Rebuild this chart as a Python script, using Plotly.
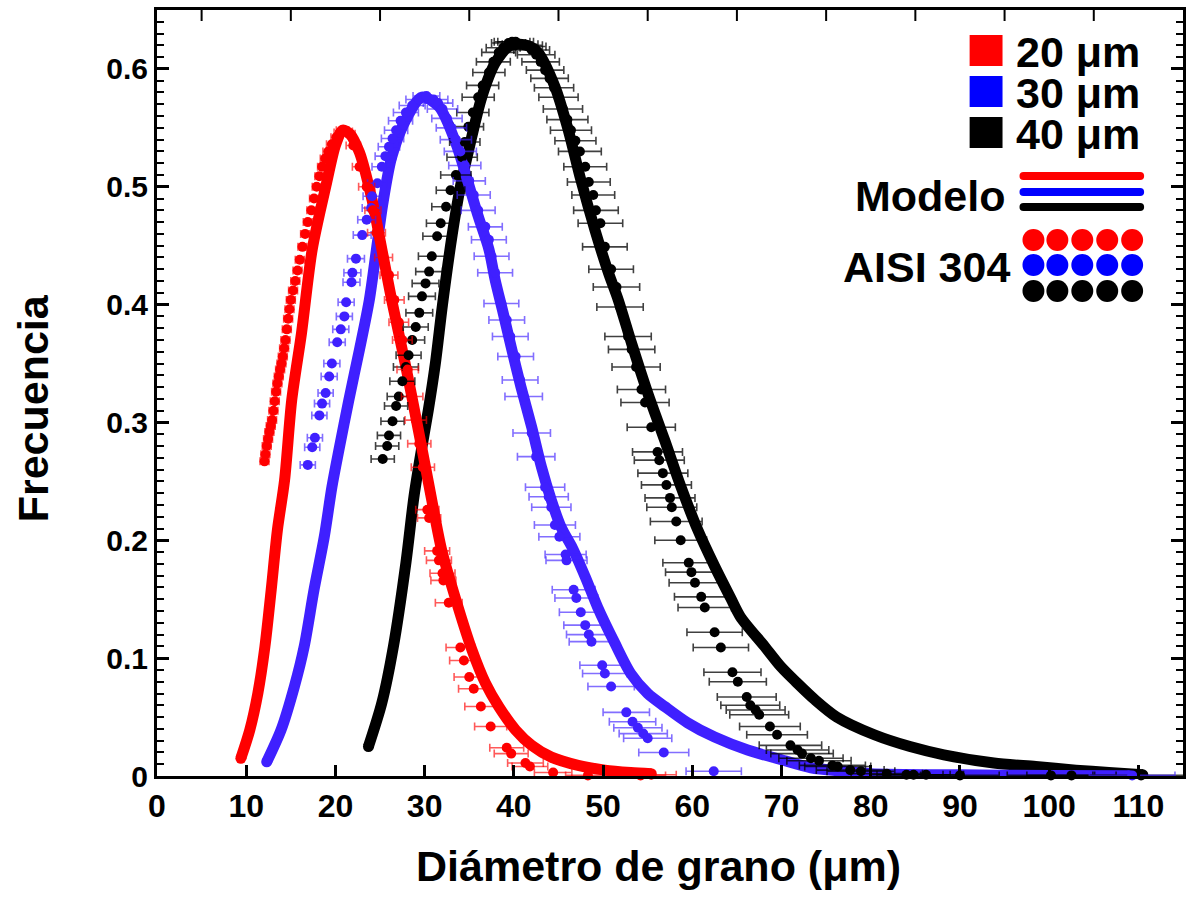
import plotly.graph_objects as go

# ---------------- data ----------------
red_model_x = [9.4, 10.4, 11.3, 12.1, 12.8, 13.5, 14.3, 15.1, 16.2, 17.4, 19.0, 20.0, 20.8, 21.6, 22.7,
               24.1, 25.2, 26.3, 27.9, 29.0, 30.1, 30.8, 31.9, 33.6, 35.3, 36.8, 38.3, 40.2, 42.0, 44.2,
               47.2, 50.2, 53.1, 55.4]
red_model_y = [0.015, 0.039, 0.070, 0.110, 0.158, 0.209, 0.251, 0.319, 0.376, 0.447, 0.503, 0.535, 0.548,
               0.545, 0.529, 0.489, 0.447, 0.404, 0.347, 0.305, 0.262, 0.234, 0.192, 0.147, 0.107, 0.079,
               0.059, 0.039, 0.026, 0.016, 0.009, 0.005, 0.003, 0.002]

blue_model_x = [12.3, 13.9, 15.4, 16.5, 17.6, 18.75, 19.6, 20.4, 21.5, 22.7, 23.8, 24.6, 25.3, 26.3, 27.9,
                29.7, 31.6, 33.5, 34.9, 36.0, 37.2, 37.9, 38.8, 39.7, 40.8, 42.0, 43.1, 44.2, 45.3, 46.6,
                48.0, 49.4, 51.3, 53.1, 55.0, 56.9, 59.5, 62.5, 66.2, 69.9, 73.3, 77.0, 80.0, 90.0, 100.0,
                109.0]
blue_model_y = [0.012, 0.039, 0.076, 0.110, 0.158, 0.203, 0.245, 0.277, 0.319, 0.362, 0.404, 0.447, 0.485,
                0.525, 0.557, 0.576, 0.568, 0.537, 0.503, 0.475, 0.447, 0.421, 0.393, 0.364, 0.330, 0.296,
                0.262, 0.234, 0.211, 0.193, 0.169, 0.143, 0.113, 0.087, 0.070, 0.059, 0.045, 0.033, 0.022,
                0.014, 0.007, 0.004, 0.002, 0.001, 0.0005, 0.0003]

black_model_x = [23.7, 25.2, 26.5, 27.9, 28.8, 29.6, 30.4, 31.2, 32.0, 33.1, 34.0, 34.9, 36.4, 37.9, 39.4,
                 40.5, 41.5, 42.7, 44.6, 46.1, 47.5, 49.1, 50.6, 51.7, 53.2, 55.0, 56.9, 58.7, 60.6, 62.5,
                 64.3, 65.4, 68.1, 69.9, 71.6, 73.7, 76.2, 80.4, 84.4, 88.2, 93.8, 98.5, 103.0, 106.7, 110.5]
black_model_y = [0.025, 0.062, 0.110, 0.181, 0.237, 0.275, 0.310, 0.350, 0.400, 0.460, 0.500, 0.530, 0.576,
                 0.605, 0.619, 0.621, 0.620, 0.614, 0.585, 0.548, 0.506, 0.463, 0.427, 0.404, 0.367, 0.325,
                 0.285, 0.246, 0.209, 0.178, 0.151, 0.135, 0.110, 0.093, 0.080, 0.065, 0.050, 0.035, 0.025,
                 0.018, 0.011, 0.008, 0.005, 0.003, 0.001]

red_exp_x = [12.05, 12.15, 12.3, 12.45, 12.6, 12.75, 12.9, 13.05, 13.2, 13.35, 13.5, 13.65, 13.8, 13.95,
             14.1, 14.25, 14.4, 14.55, 14.7, 14.85, 15.0, 15.25, 15.5, 15.75, 16.0, 16.3, 16.6, 16.9,
             17.3, 17.6, 17.9, 18.2, 18.5, 18.85, 19.2, 19.6, 20.1, 20.5, 20.8, 21.2, 21.5, 22.0, 22.7,
             23.5, 24.2, 24.6, 25.4, 26.0, 26.6, 27.1, 27.5, 28.1, 28.6, 29.0, 29.4, 29.8, 30.3, 30.5,
             31.4, 31.6, 32.0, 32.1, 32.7, 34.0, 34.4, 35.0, 35.5, 36.3, 37.4, 39.2, 39.7, 41.3, 41.8,
             44.4, 48.3, 54.2, 55.4]
red_exp_y = [0.267, 0.273, 0.280, 0.286, 0.292, 0.297, 0.302, 0.310, 0.318, 0.326, 0.333, 0.339, 0.345,
             0.350, 0.356, 0.363, 0.370, 0.379, 0.388, 0.396, 0.404, 0.412, 0.420, 0.429, 0.438, 0.449,
             0.460, 0.470, 0.480, 0.490, 0.500, 0.509, 0.517, 0.524, 0.530, 0.536, 0.542, 0.546, 0.548,
             0.547, 0.545, 0.535, 0.517, 0.500, 0.480, 0.461, 0.440, 0.425, 0.404, 0.385, 0.370, 0.345,
             0.322, 0.302, 0.282, 0.262, 0.226, 0.219, 0.191, 0.183, 0.172, 0.166, 0.147, 0.109, 0.098,
             0.084, 0.074, 0.059, 0.042, 0.024, 0.019, 0.011, 0.008, 0.003, 0.0005, 0.0005, 0.001]
red_exp_err = [0.5, 0.5, 0.5, 0.5, 0.5, 0.5, 0.5, 0.5, 0.5, 0.5, 0.5, 0.5, 0.5, 0.5,
               0.5, 0.5, 0.5, 0.5, 0.5, 0.5, 0.5, 0.5, 0.5, 0.5, 0.5, 0.5, 0.5, 0.5,
               0.5, 0.5, 0.5, 0.5, 0.5, 0.55, 0.6, 0.6, 0.6, 0.65, 0.7, 0.7, 0.7, 0.8, 0.8,
               0.9, 0.9, 1.0, 1.0, 1.0, 1.1, 1.1, 1.1, 1.2, 1.2, 1.2, 1.3, 1.3, 1.3, 1.3,
               1.4, 1.4, 1.4, 1.4, 1.5, 1.6, 1.6, 1.7, 1.7, 1.8, 1.8, 1.9, 1.9, 2.0, 2.0,
               2.1, 2.5, 2.8, 2.8]

blue_exp_x = [16.9, 17.4, 17.7, 18.2, 18.5, 18.9, 19.3, 19.6, 20.2, 20.6, 21.0, 21.2, 21.8, 21.9, 22.3,
              23.0, 23.5, 24.0, 24.1, 24.7, 25.2, 25.6, 26.0, 26.4, 26.8, 27.3, 27.9, 28.6, 29.4, 30.2,
              31.0, 31.5, 32.0, 32.5, 33.0, 33.5, 34.0, 34.5, 35.0, 35.5, 36.0, 36.8, 37.2, 37.5, 37.9,
              38.6, 39.2, 39.6, 40.2, 40.7, 41.1, 42.0, 42.5, 43.5, 43.9, 44.2, 44.6, 45.1, 45.8, 45.9,
              46.7, 47.0, 47.5, 48.0, 48.4, 48.7, 49.9, 50.2, 50.9, 52.6, 53.3, 53.9, 54.5, 55.0, 56.8,
              62.4, 109.3]
blue_exp_y = [0.264, 0.279, 0.287, 0.306, 0.316, 0.325, 0.339, 0.350, 0.368, 0.379, 0.390, 0.402, 0.419,
              0.427, 0.439, 0.459, 0.472, 0.482, 0.492, 0.503, 0.517, 0.526, 0.534, 0.541, 0.548, 0.556,
              0.563, 0.569, 0.574, 0.577, 0.574, 0.571, 0.566, 0.558, 0.550, 0.540, 0.530, 0.518, 0.505,
              0.493, 0.480, 0.466, 0.455, 0.441, 0.427, 0.401, 0.387, 0.373, 0.356, 0.336, 0.322, 0.291,
              0.271, 0.245, 0.237, 0.228, 0.213, 0.203, 0.188, 0.183, 0.158, 0.151, 0.139, 0.128, 0.120,
              0.114, 0.094, 0.087, 0.076, 0.054, 0.046, 0.041, 0.036, 0.032, 0.020, 0.004, 0.0005]
blue_exp_err = [0.85, 0.85, 0.85, 0.85, 0.85, 0.85, 0.9, 0.9, 0.9, 0.9, 0.9, 0.9, 0.95, 0.95, 0.95,
                1.0, 1.0, 1.0, 1.0, 1.1, 1.1, 1.15, 1.2, 1.25, 1.3, 1.35, 1.4, 1.45, 1.5, 1.5,
                1.6, 1.65, 1.7, 1.7, 1.7, 1.75, 1.8, 1.8, 1.8, 1.85, 1.9, 1.9, 1.95, 1.95, 1.95,
                1.95, 2.0, 2.0, 2.0, 2.0, 2.1, 2.1, 2.1, 2.2, 2.2, 2.2, 2.3, 2.3, 2.3, 2.3,
                2.4, 2.4, 2.4, 2.4, 2.5, 2.5, 2.5, 2.5, 2.6, 2.6, 2.6, 2.7, 2.7, 2.7, 2.8,
                3.1, 4.8]

black_exp_x = [25.3, 25.8, 26.0, 26.4, 26.8, 27.1, 27.5, 27.9, 28.2, 28.6, 29.0, 29.4, 29.7, 30.1, 30.5,
               30.8, 31.4, 31.8, 32.4, 32.9, 33.5, 34.2, 34.5, 34.9, 35.4, 36.0, 36.5, 37.2, 37.7, 38.3,
               38.8, 39.4, 39.8, 40.2, 40.7, 41.2, 41.6, 42.0, 42.5, 43.0, 43.5, 44.0, 44.5, 45.0, 45.5,
               46.0, 46.4, 46.9, 47.4, 48.0, 48.4, 48.9, 49.2, 49.7, 50.2, 50.9, 51.5, 51.9, 52.8, 53.2,
               53.7, 54.3, 54.7, 55.4, 56.1, 56.3, 56.7, 57.1, 57.5, 57.7, 58.2, 58.7, 59.6, 59.9, 60.3,
               61.0, 61.4, 62.5, 63.2, 64.5, 65.1, 66.1, 66.5, 67.1, 67.5, 68.7, 69.5, 71.0, 71.8, 72.3,
               73.3, 74.2, 75.7, 76.3, 77.7, 78.9, 81.8, 84.0, 84.8, 86.2, 90.0, 100.2, 102.5, 110.3]
black_exp_y = [0.269, 0.280, 0.289, 0.301, 0.314, 0.322, 0.335, 0.347, 0.357, 0.370, 0.381, 0.393, 0.407,
               0.418, 0.428, 0.441, 0.458, 0.469, 0.483, 0.497, 0.510, 0.525, 0.538, 0.551, 0.563, 0.576,
               0.586, 0.597, 0.606, 0.614, 0.618, 0.622, 0.623, 0.623, 0.621, 0.620, 0.619, 0.616, 0.612,
               0.606, 0.599, 0.592, 0.584, 0.576, 0.566, 0.557, 0.548, 0.539, 0.530, 0.517, 0.504, 0.493,
               0.480, 0.469, 0.449, 0.430, 0.415, 0.398, 0.373, 0.362, 0.347, 0.328, 0.317, 0.296, 0.275,
               0.268, 0.257, 0.247, 0.236, 0.228, 0.216, 0.200, 0.181, 0.173, 0.164, 0.152, 0.143, 0.122,
               0.109, 0.088, 0.080, 0.067, 0.060, 0.056, 0.052, 0.042, 0.035, 0.026, 0.022, 0.019, 0.015,
               0.013, 0.009, 0.008, 0.005, 0.004, 0.002, 0.001, 0.001, 0.001, 0.0005, 0.0005, 0.0005,
               0.0005]
black_exp_err = [1.3, 1.3, 1.3, 1.3, 1.3, 1.3, 1.4, 1.4, 1.4, 1.4, 1.4, 1.5, 1.5, 1.5, 1.5,
                 1.5, 1.6, 1.6, 1.6, 1.6, 1.7, 1.7, 1.7, 1.7, 1.8, 1.8, 1.8, 1.8, 1.9, 1.9,
                 1.9, 1.9, 2.0, 2.0, 2.0, 2.0, 2.0, 2.0, 2.1, 2.1, 2.1, 2.1, 2.2, 2.2, 2.2,
                 2.3, 2.3, 2.3, 2.4, 2.4, 2.4, 2.4, 2.5, 2.5, 2.5, 2.5, 2.6, 2.6, 2.6, 2.6,
                 2.7, 2.7, 2.7, 2.7, 2.8, 2.8, 2.8, 2.8, 2.8, 2.8, 2.9, 2.9, 2.9, 2.9, 2.9,
                 3.0, 3.0, 3.1, 3.1, 3.2, 3.2, 3.3, 3.3, 3.3, 3.3, 3.4, 3.4, 3.5, 3.5, 3.5,
                 3.6, 3.6, 3.7, 3.7, 3.8, 3.8, 4.0, 4.1, 4.1, 4.2, 4.4, 4.9, 5.0, 5.4]

x_ticks = [0, 10, 20, 30, 40, 50, 60, 70, 80, 90, 100, 110]
x_top_ticks = [5, 15, 25, 35, 45, 55, 65, 75, 85, 95, 105]

legend_sizes = ["20 μm", "30 μm", "40 μm"]
legend_model = "Modelo"
legend_exp = "AISI 304"

# ---------------- styling ----------------
RED = "#ff0000"
BLUE = "#3f20ff"
BLACK = "#000000"
LEG_BLUE = "#0000ff"
FONT = "Liberation Sans, Arial, sans-serif"

W, H = 1188, 901
L, R, T, B = 157, 2, 10, 125
PW, PH = W - L - R, H - T - B


def px_x(px):
    return (px - L) / PW


def px_y(py):
    return (H - B - py) / PH


fig = go.Figure()

for mx, my, col in [(black_model_x, black_model_y, BLACK),
                    (blue_model_x, blue_model_y, BLUE),
                    (red_model_x, red_model_y, RED)]:
    fig.add_trace(go.Scatter(x=mx, y=my, mode="lines",
                             line=dict(color=col, width=11, shape="spline", smoothing=0.8),
                             showlegend=False, hoverinfo="skip"))
    # rounded ends of the model curves
    fig.add_trace(go.Scatter(x=[mx[0], mx[-1]], y=[my[0], my[-1]], mode="markers",
                             marker=dict(color=col, size=11),
                             showlegend=False, hoverinfo="skip"))

for ex, ey, ee, col, ecol in [
        (black_exp_x, black_exp_y, black_exp_err, BLACK, "rgba(0,0,0,0.75)"),
        (blue_exp_x, blue_exp_y, blue_exp_err, BLUE, "rgba(63,32,255,0.65)"),
        (red_exp_x, red_exp_y, red_exp_err, RED, "rgba(255,0,0,0.65)")]:
    fig.add_trace(go.Scatter(x=ex, y=ey, mode="markers",
                             marker=dict(color=col, size=10),
                             error_x=dict(type="data", array=ee, visible=True,
                                          color=ecol, thickness=1.6, width=4),
                             cliponaxis=False,
                             showlegend=False, hoverinfo="skip"))

shapes = []
annotations = []

# top-frame ticks (at 5, 15, 25, ...), hanging down from the top edge
for xv in x_top_ticks:
    shapes.append(dict(type="line", xref="x", yref="paper", x0=xv, x1=xv, y0=1, y1=1 - 11 / PH,
                       line=dict(color="black", width=2)))

# legend: squares + size labels
sq_cols = [RED, LEG_BLUE, BLACK]
sq_tops = [35, 76, 117]
for col, top, lab in zip(sq_cols, sq_tops, legend_sizes):
    shapes.append(dict(type="rect", xref="paper", yref="paper",
                       x0=px_x(972), x1=px_x(1005), y0=px_y(top + 31), y1=px_y(top),
                       fillcolor=col, line=dict(width=0)))
    annotations.append(dict(text=lab, xref="paper", yref="paper", x=px_x(1017), y=px_y(top + 17),
                            xanchor="left", yanchor="middle", showarrow=False,
                            font=dict(family=FONT, size=43, color="black", weight="bold")))

# legend: model lines
for col, yc in zip([RED, LEG_BLUE, BLACK], [176, 192, 207]):
    shapes.append(dict(type="line", xref="paper", yref="paper",
                       x0=px_x(1026), x1=px_x(1143), y0=px_y(yc), y1=px_y(yc),
                       line=dict(color=col, width=8)))
    for xe in (1026, 1143):
        shapes.append(dict(type="circle", xref="paper", yref="paper",
                           x0=px_x(xe - 4), x1=px_x(xe + 4), y0=px_y(yc + 4), y1=px_y(yc - 4),
                           fillcolor=col, line=dict(width=0)))
annotations.append(dict(text=legend_model, xref="paper", yref="paper", x=px_x(1009), y=px_y(196),
                        xanchor="right", yanchor="middle", showarrow=False,
                        font=dict(family=FONT, size=43, color="black", weight="bold")))

# legend: experimental dots
for col, yc in zip([RED, LEG_BLUE, BLACK], [240, 265, 291]):
    for xc in [1036, 1060, 1085, 1110, 1135]:
        shapes.append(dict(type="circle", xref="paper", yref="paper",
                           x0=px_x(xc - 11), x1=px_x(xc + 11), y0=px_y(yc + 11), y1=px_y(yc - 11),
                           fillcolor=col, line=dict(width=0)))
annotations.append(dict(text=legend_exp, xref="paper", yref="paper", x=px_x(1014), y=px_y(267),
                        xanchor="right", yanchor="middle", showarrow=False,
                        font=dict(family=FONT, size=43, color="black", weight="bold")))

# axis titles
annotations.append(dict(text="Diámetro de grano (μm)", xref="paper", yref="paper",
                        x=px_x(660), y=px_y(866), xanchor="center", yanchor="middle",
                        showarrow=False,
                        font=dict(family=FONT, size=43, color="black", weight="bold")))
annotations.append(dict(text="Frecuencia", xref="paper", yref="paper",
                        x=px_x(33), y=px_y(408), xanchor="center", yanchor="middle",
                        textangle=-90, showarrow=False,
                        font=dict(family=FONT, size=43, color="black", weight="bold")))

fig.update_layout(
    width=W, height=H,
    margin=dict(l=L, r=R, t=T, b=B),
    paper_bgcolor="white", plot_bgcolor="white",
    showlegend=False,
    shapes=shapes, annotations=annotations,
    xaxis=dict(range=[0, 115], tickmode="array", tickvals=x_ticks, ticks="inside", ticklen=11,
               tickwidth=2.5, tickcolor="black", showline=True, linewidth=3, linecolor="black",
               mirror=True, showgrid=False, zeroline=False,
               tickfont=dict(family=FONT, size=32, color="black", weight="bold")),
    yaxis=dict(range=[0, 0.65], tickmode="linear", tick0=0, dtick=0.1,
               ticks="inside", ticklen=12, tickwidth=2.5, tickcolor="black",
               minor=dict(dtick=0.01, ticks="inside", ticklen=7, tickwidth=2, tickcolor="black"),
               showline=True, linewidth=3, linecolor="black", mirror="ticks",
               showgrid=False, zeroline=False,
               tickfont=dict(family=FONT, size=30, color="black", weight="bold")),
)

fig.write_html("out.html")
